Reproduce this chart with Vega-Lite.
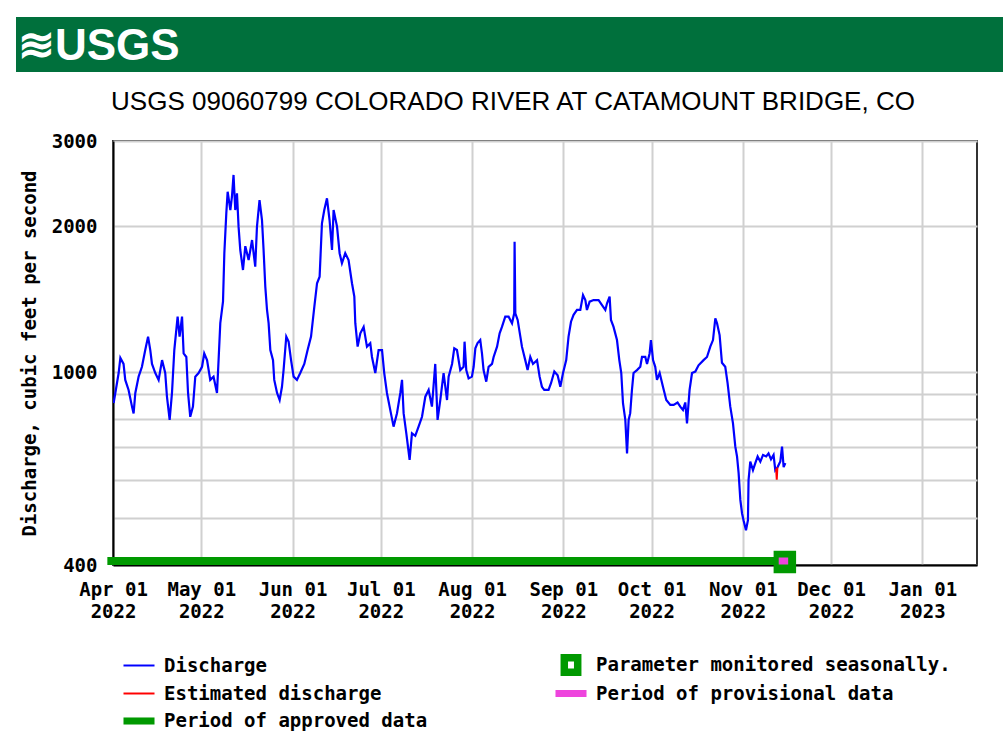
{
  "$schema": "https://vega.github.io/schema/vega-lite/v6.json",
  "background": "white",
  "padding": {"left": 16, "top": 17, "right": 0, "bottom": 0},
  "spacing": 16,
  "datasets": {
    "discharge": [
      {"t":"2022-04-01T05:00","q":863,"s":"Discharge"},
      {"t":"2022-04-01T19:00","q":906,"s":"Discharge"},
      {"t":"2022-04-02T22:00","q":996,"s":"Discharge"},
      {"t":"2022-04-03T12:00","q":1070,"s":"Discharge"},
      {"t":"2022-04-04T14:00","q":1040,"s":"Discharge"},
      {"t":"2022-04-05T04:00","q":964,"s":"Discharge"},
      {"t":"2022-04-06T07:00","q":919,"s":"Discharge"},
      {"t":"2022-04-07T11:00","q":849,"s":"Discharge"},
      {"t":"2022-04-08T00:00","q":822,"s":"Discharge"},
      {"t":"2022-04-08T14:00","q":906,"s":"Discharge"},
      {"t":"2022-04-09T17:00","q":979,"s":"Discharge"},
      {"t":"2022-04-10T20:00","q":1026,"s":"Discharge"},
      {"t":"2022-04-11T23:00","q":1111,"s":"Discharge"},
      {"t":"2022-04-12T22:00","q":1184,"s":"Discharge"},
      {"t":"2022-04-13T16:00","q":1111,"s":"Discharge"},
      {"t":"2022-04-14T06:00","q":1040,"s":"Discharge"},
      {"t":"2022-04-15T09:00","q":996,"s":"Discharge"},
      {"t":"2022-04-16T12:00","q":964,"s":"Discharge"},
      {"t":"2022-04-17T16:00","q":1059,"s":"Discharge"},
      {"t":"2022-04-18T18:00","q":996,"s":"Discharge"},
      {"t":"2022-04-19T08:00","q":890,"s":"Discharge"},
      {"t":"2022-04-20T06:00","q":797,"s":"Discharge"},
      {"t":"2022-04-21T01:00","q":906,"s":"Discharge"},
      {"t":"2022-04-21T20:00","q":1111,"s":"Discharge"},
      {"t":"2022-04-22T23:00","q":1302,"s":"Discharge"},
      {"t":"2022-04-23T15:00","q":1184,"s":"Discharge"},
      {"t":"2022-04-24T11:00","q":1302,"s":"Discharge"},
      {"t":"2022-04-25T00:00","q":1093,"s":"Discharge"},
      {"t":"2022-04-25T22:00","q":1075,"s":"Discharge"},
      {"t":"2022-04-26T12:00","q":906,"s":"Discharge"},
      {"t":"2022-04-27T06:00","q":809,"s":"Discharge"},
      {"t":"2022-04-28T04:00","q":849,"s":"Discharge"},
      {"t":"2022-04-28T23:00","q":979,"s":"Discharge"},
      {"t":"2022-04-30T02:00","q":996,"s":"Discharge"},
      {"t":"2022-05-01T06:00","q":1026,"s":"Discharge"},
      {"t":"2022-05-02T00:00","q":1093,"s":"Discharge"},
      {"t":"2022-05-02T23:00","q":1059,"s":"Discharge"},
      {"t":"2022-05-04T01:00","q":964,"s":"Discharge"},
      {"t":"2022-05-05T04:00","q":979,"s":"Discharge"},
      {"t":"2022-05-06T08:00","q":906,"s":"Discharge"},
      {"t":"2022-05-06T21:00","q":1059,"s":"Discharge"},
      {"t":"2022-05-07T11:00","q":1262,"s":"Discharge"},
      {"t":"2022-05-08T09:00","q":1398,"s":"Discharge"},
      {"t":"2022-05-08T20:00","q":1760,"s":"Discharge"},
      {"t":"2022-05-09T12:00","q":2127,"s":"Discharge"},
      {"t":"2022-05-09T23:00","q":2357,"s":"Discharge"},
      {"t":"2022-05-10T21:00","q":2161,"s":"Discharge"},
      {"t":"2022-05-11T10:00","q":2302,"s":"Discharge"},
      {"t":"2022-05-11T23:00","q":2553,"s":"Discharge"},
      {"t":"2022-05-12T13:00","q":2161,"s":"Discharge"},
      {"t":"2022-05-13T03:00","q":2340,"s":"Discharge"},
      {"t":"2022-05-13T16:00","q":1997,"s":"Discharge"},
      {"t":"2022-05-14T06:00","q":1787,"s":"Discharge"},
      {"t":"2022-05-15T04:00","q":1625,"s":"Discharge"},
      {"t":"2022-05-15T23:00","q":1820,"s":"Discharge"},
      {"t":"2022-05-17T02:00","q":1704,"s":"Discharge"},
      {"t":"2022-05-18T06:00","q":1874,"s":"Discharge"},
      {"t":"2022-05-19T08:00","q":1651,"s":"Discharge"},
      {"t":"2022-05-19T22:00","q":1997,"s":"Discharge"},
      {"t":"2022-05-20T19:00","q":2266,"s":"Discharge"},
      {"t":"2022-05-21T15:00","q":2061,"s":"Discharge"},
      {"t":"2022-05-22T04:00","q":1787,"s":"Discharge"},
      {"t":"2022-05-22T18:00","q":1502,"s":"Discharge"},
      {"t":"2022-05-23T08:00","q":1344,"s":"Discharge"},
      {"t":"2022-05-23T21:00","q":1262,"s":"Discharge"},
      {"t":"2022-05-24T11:00","q":1111,"s":"Discharge"},
      {"t":"2022-05-25T09:00","q":1059,"s":"Discharge"},
      {"t":"2022-05-25T19:00","q":964,"s":"Discharge"},
      {"t":"2022-05-26T18:00","q":906,"s":"Discharge"},
      {"t":"2022-05-27T15:00","q":876,"s":"Discharge"},
      {"t":"2022-05-28T10:00","q":933,"s":"Discharge"},
      {"t":"2022-05-28T23:00","q":1010,"s":"Discharge"},
      {"t":"2022-05-29T21:00","q":1184,"s":"Discharge"},
      {"t":"2022-05-30T16:00","q":1156,"s":"Discharge"},
      {"t":"2022-05-31T12:00","q":1059,"s":"Discharge"},
      {"t":"2022-06-01T09:00","q":979,"s":"Discharge"},
      {"t":"2022-06-02T12:00","q":964,"s":"Discharge"},
      {"t":"2022-06-03T15:00","q":996,"s":"Discharge"},
      {"t":"2022-06-05T00:00","q":1040,"s":"Discharge"},
      {"t":"2022-06-06T03:00","q":1111,"s":"Discharge"},
      {"t":"2022-06-07T07:00","q":1184,"s":"Discharge"},
      {"t":"2022-06-08T10:00","q":1365,"s":"Discharge"},
      {"t":"2022-06-09T08:00","q":1526,"s":"Discharge"},
      {"t":"2022-06-10T05:00","q":1574,"s":"Discharge"},
      {"t":"2022-06-11T00:00","q":2029,"s":"Discharge"},
      {"t":"2022-06-11T19:00","q":2161,"s":"Discharge"},
      {"t":"2022-06-12T17:00","q":2285,"s":"Discharge"},
      {"t":"2022-06-13T14:00","q":2061,"s":"Discharge"},
      {"t":"2022-06-14T10:00","q":1787,"s":"Discharge"},
      {"t":"2022-06-14T23:00","q":2161,"s":"Discharge"},
      {"t":"2022-06-16T03:00","q":1997,"s":"Discharge"},
      {"t":"2022-06-17T00:00","q":1760,"s":"Discharge"},
      {"t":"2022-06-17T19:00","q":1678,"s":"Discharge"},
      {"t":"2022-06-18T22:00","q":1760,"s":"Discharge"},
      {"t":"2022-06-20T01:00","q":1704,"s":"Discharge"},
      {"t":"2022-06-21T05:00","q":1526,"s":"Discharge"},
      {"t":"2022-06-22T00:00","q":1432,"s":"Discharge"},
      {"t":"2022-06-22T08:00","q":1262,"s":"Discharge"},
      {"t":"2022-06-23T03:00","q":1129,"s":"Discharge"},
      {"t":"2022-06-24T01:00","q":1203,"s":"Discharge"},
      {"t":"2022-06-25T04:00","q":1240,"s":"Discharge"},
      {"t":"2022-06-26T07:00","q":1129,"s":"Discharge"},
      {"t":"2022-06-27T10:00","q":1148,"s":"Discharge"},
      {"t":"2022-06-28T00:00","q":1075,"s":"Discharge"},
      {"t":"2022-06-29T03:00","q":996,"s":"Discharge"},
      {"t":"2022-06-30T06:00","q":1111,"s":"Discharge"},
      {"t":"2022-07-01T10:00","q":1111,"s":"Discharge"},
      {"t":"2022-07-02T04:00","q":996,"s":"Discharge"},
      {"t":"2022-07-03T02:00","q":906,"s":"Discharge"},
      {"t":"2022-07-04T05:00","q":836,"s":"Discharge"},
      {"t":"2022-07-05T08:00","q":772,"s":"Discharge"},
      {"t":"2022-07-06T12:00","q":823,"s":"Discharge"},
      {"t":"2022-07-07T15:00","q":906,"s":"Discharge"},
      {"t":"2022-07-08T05:00","q":964,"s":"Discharge"},
      {"t":"2022-07-08T18:00","q":823,"s":"Discharge"},
      {"t":"2022-07-09T16:00","q":748,"s":"Discharge"},
      {"t":"2022-07-10T19:00","q":659,"s":"Discharge"},
      {"t":"2022-07-11T14:00","q":748,"s":"Discharge"},
      {"t":"2022-07-12T17:00","q":739,"s":"Discharge"},
      {"t":"2022-07-13T20:00","q":772,"s":"Discharge"},
      {"t":"2022-07-15T00:00","q":809,"s":"Discharge"},
      {"t":"2022-07-16T03:00","q":890,"s":"Discharge"},
      {"t":"2022-07-17T06:00","q":919,"s":"Discharge"},
      {"t":"2022-07-18T09:00","q":849,"s":"Discharge"},
      {"t":"2022-07-19T12:00","q":1040,"s":"Discharge"},
      {"t":"2022-07-20T07:00","q":797,"s":"Discharge"},
      {"t":"2022-07-21T05:00","q":876,"s":"Discharge"},
      {"t":"2022-07-22T08:00","q":996,"s":"Discharge"},
      {"t":"2022-07-23T12:00","q":876,"s":"Discharge"},
      {"t":"2022-07-24T01:00","q":979,"s":"Discharge"},
      {"t":"2022-07-25T05:00","q":1040,"s":"Discharge"},
      {"t":"2022-07-25T23:00","q":1120,"s":"Discharge"},
      {"t":"2022-07-26T21:00","q":1111,"s":"Discharge"},
      {"t":"2022-07-28T00:00","q":1010,"s":"Discharge"},
      {"t":"2022-07-29T03:00","q":1026,"s":"Discharge"},
      {"t":"2022-07-29T11:00","q":1156,"s":"Discharge"},
      {"t":"2022-07-30T01:00","q":1010,"s":"Discharge"},
      {"t":"2022-07-30T20:00","q":971,"s":"Discharge"},
      {"t":"2022-07-31T23:00","q":979,"s":"Discharge"},
      {"t":"2022-08-01T13:00","q":1026,"s":"Discharge"},
      {"t":"2022-08-02T03:00","q":1120,"s":"Discharge"},
      {"t":"2022-08-02T21:00","q":1148,"s":"Discharge"},
      {"t":"2022-08-03T19:00","q":1165,"s":"Discharge"},
      {"t":"2022-08-04T09:00","q":1093,"s":"Discharge"},
      {"t":"2022-08-04T22:00","q":1010,"s":"Discharge"},
      {"t":"2022-08-05T20:00","q":956,"s":"Discharge"},
      {"t":"2022-08-06T15:00","q":1026,"s":"Discharge"},
      {"t":"2022-08-07T19:00","q":1040,"s":"Discharge"},
      {"t":"2022-08-08T08:00","q":1075,"s":"Discharge"},
      {"t":"2022-08-09T12:00","q":1129,"s":"Discharge"},
      {"t":"2022-08-10T09:00","q":1203,"s":"Discharge"},
      {"t":"2022-08-11T04:00","q":1240,"s":"Discharge"},
      {"t":"2022-08-12T07:00","q":1302,"s":"Discharge"},
      {"t":"2022-08-13T10:00","q":1302,"s":"Discharge"},
      {"t":"2022-08-14T14:00","q":1262,"s":"Discharge"},
      {"t":"2022-08-15T08:00","q":1323,"s":"Discharge"},
      {"t":"2022-08-15T11:00","q":1859,"s":"Discharge"},
      {"t":"2022-08-15T17:00","q":1323,"s":"Discharge"},
      {"t":"2022-08-16T12:00","q":1282,"s":"Discharge"},
      {"t":"2022-08-17T10:00","q":1184,"s":"Discharge"},
      {"t":"2022-08-17T23:00","q":1129,"s":"Discharge"},
      {"t":"2022-08-19T02:00","q":1059,"s":"Discharge"},
      {"t":"2022-08-19T21:00","q":1010,"s":"Discharge"},
      {"t":"2022-08-20T19:00","q":1075,"s":"Discharge"},
      {"t":"2022-08-21T17:00","q":1040,"s":"Discharge"},
      {"t":"2022-08-23T02:00","q":1059,"s":"Discharge"},
      {"t":"2022-08-23T23:00","q":979,"s":"Discharge"},
      {"t":"2022-08-24T18:00","q":933,"s":"Discharge"},
      {"t":"2022-08-25T13:00","q":919,"s":"Discharge"},
      {"t":"2022-08-27T00:00","q":919,"s":"Discharge"},
      {"t":"2022-08-27T20:00","q":949,"s":"Discharge"},
      {"t":"2022-08-28T23:00","q":1003,"s":"Discharge"},
      {"t":"2022-08-30T02:00","q":985,"s":"Discharge"},
      {"t":"2022-08-31T00:00","q":933,"s":"Discharge"},
      {"t":"2022-08-31T22:00","q":996,"s":"Discharge"},
      {"t":"2022-09-02T00:00","q":1059,"s":"Discharge"},
      {"t":"2022-09-02T19:00","q":1184,"s":"Discharge"},
      {"t":"2022-09-03T15:00","q":1271,"s":"Discharge"},
      {"t":"2022-09-04T12:00","q":1313,"s":"Discharge"},
      {"t":"2022-09-05T16:00","q":1344,"s":"Discharge"},
      {"t":"2022-09-06T19:00","q":1344,"s":"Discharge"},
      {"t":"2022-09-07T17:00","q":1443,"s":"Discharge"},
      {"t":"2022-09-08T12:00","q":1409,"s":"Discharge"},
      {"t":"2022-09-09T01:00","q":1344,"s":"Discharge"},
      {"t":"2022-09-09T23:00","q":1398,"s":"Discharge"},
      {"t":"2022-09-11T07:00","q":1409,"s":"Discharge"},
      {"t":"2022-09-13T00:00","q":1409,"s":"Discharge"},
      {"t":"2022-09-14T04:00","q":1376,"s":"Discharge"},
      {"t":"2022-09-15T07:00","q":1344,"s":"Discharge"},
      {"t":"2022-09-15T21:00","q":1387,"s":"Discharge"},
      {"t":"2022-09-16T18:00","q":1432,"s":"Discharge"},
      {"t":"2022-09-17T05:00","q":1282,"s":"Discharge"},
      {"t":"2022-09-18T02:00","q":1240,"s":"Discharge"},
      {"t":"2022-09-19T06:00","q":1165,"s":"Discharge"},
      {"t":"2022-09-20T01:00","q":1059,"s":"Discharge"},
      {"t":"2022-09-20T17:00","q":996,"s":"Discharge"},
      {"t":"2022-09-21T07:00","q":863,"s":"Discharge"},
      {"t":"2022-09-22T02:00","q":797,"s":"Discharge"},
      {"t":"2022-09-22T16:00","q":680,"s":"Discharge"},
      {"t":"2022-09-23T05:00","q":797,"s":"Discharge"},
      {"t":"2022-09-23T18:00","q":823,"s":"Discharge"},
      {"t":"2022-09-24T08:00","q":919,"s":"Discharge"},
      {"t":"2022-09-24T21:00","q":996,"s":"Discharge"},
      {"t":"2022-09-26T01:00","q":1010,"s":"Discharge"},
      {"t":"2022-09-27T04:00","q":1026,"s":"Discharge"},
      {"t":"2022-09-27T18:00","q":1075,"s":"Discharge"},
      {"t":"2022-09-28T21:00","q":1075,"s":"Discharge"},
      {"t":"2022-09-29T11:00","q":1040,"s":"Discharge"},
      {"t":"2022-09-30T08:00","q":1093,"s":"Discharge"},
      {"t":"2022-09-30T19:00","q":1165,"s":"Discharge"},
      {"t":"2022-10-01T12:00","q":1059,"s":"Discharge"},
      {"t":"2022-10-02T06:00","q":1026,"s":"Discharge"},
      {"t":"2022-10-02T20:00","q":964,"s":"Discharge"},
      {"t":"2022-10-03T18:00","q":996,"s":"Discharge"},
      {"t":"2022-10-04T21:00","q":933,"s":"Discharge"},
      {"t":"2022-10-06T00:00","q":876,"s":"Discharge"},
      {"t":"2022-10-07T09:00","q":856,"s":"Discharge"},
      {"t":"2022-10-08T12:00","q":856,"s":"Discharge"},
      {"t":"2022-10-09T20:00","q":866,"s":"Discharge"},
      {"t":"2022-10-10T18:00","q":849,"s":"Discharge"},
      {"t":"2022-10-11T16:00","q":836,"s":"Discharge"},
      {"t":"2022-10-12T11:00","q":866,"s":"Discharge"},
      {"t":"2022-10-13T01:00","q":784,"s":"Discharge"},
      {"t":"2022-10-13T22:00","q":919,"s":"Discharge"},
      {"t":"2022-10-14T18:00","q":996,"s":"Discharge"},
      {"t":"2022-10-15T21:00","q":1003,"s":"Discharge"},
      {"t":"2022-10-16T23:00","q":1033,"s":"Discharge"},
      {"t":"2022-10-18T16:00","q":1059,"s":"Discharge"},
      {"t":"2022-10-19T20:00","q":1075,"s":"Discharge"},
      {"t":"2022-10-20T23:00","q":1129,"s":"Discharge"},
      {"t":"2022-10-21T21:00","q":1165,"s":"Discharge"},
      {"t":"2022-10-22T16:00","q":1292,"s":"Discharge"},
      {"t":"2022-10-23T06:00","q":1262,"s":"Discharge"},
      {"t":"2022-10-24T03:00","q":1193,"s":"Discharge"},
      {"t":"2022-10-24T22:00","q":1046,"s":"Discharge"},
      {"t":"2022-10-26T01:00","q":1026,"s":"Discharge"},
      {"t":"2022-10-26T20:00","q":949,"s":"Discharge"},
      {"t":"2022-10-27T18:00","q":849,"s":"Discharge"},
      {"t":"2022-10-28T16:00","q":784,"s":"Discharge"},
      {"t":"2022-10-29T11:00","q":702,"s":"Discharge"},
      {"t":"2022-10-30T01:00","q":670,"s":"Discharge"},
      {"t":"2022-10-30T14:00","q":619,"s":"Discharge"},
      {"t":"2022-10-31T04:00","q":545,"s":"Discharge"},
      {"t":"2022-10-31T18:00","q":511,"s":"Discharge"},
      {"t":"2022-11-01T06:00","q":495,"s":"Discharge"},
      {"t":"2022-11-02T02:00","q":472,"s":"Discharge"},
      {"t":"2022-11-02T18:00","q":495,"s":"Discharge"},
      {"t":"2022-11-02T23:00","q":599,"s":"Discharge"},
      {"t":"2022-11-03T13:00","q":654,"s":"Discharge"},
      {"t":"2022-11-04T11:00","q":628,"s":"Discharge"},
      {"t":"2022-11-05T06:00","q":649,"s":"Discharge"},
      {"t":"2022-11-06T01:00","q":670,"s":"Discharge"},
      {"t":"2022-11-06T23:00","q":654,"s":"Discharge"},
      {"t":"2022-11-07T21:00","q":675,"s":"Discharge"},
      {"t":"2022-11-08T23:00","q":670,"s":"Discharge"},
      {"t":"2022-11-09T18:00","q":680,"s":"Discharge"},
      {"t":"2022-11-10T14:00","q":661,"s":"Discharge"},
      {"t":"2022-11-11T11:00","q":675,"s":"Discharge"},
      {"t":"2022-11-12T01:00","q":628,"s":"Discharge"},
      {"t":"2022-11-12T20:00","q":637,"s":"Discharge"},
      {"t":"2022-11-13T18:00","q":654,"s":"Discharge"},
      {"t":"2022-11-14T08:00","q":702,"s":"Discharge"},
      {"t":"2022-11-14T21:00","q":637,"s":"Discharge"},
      {"t":"2022-11-15T11:00","q":649,"s":"Discharge"}
    ],
    "estimated": [
      {"t":"2022-11-12T08:00","q":632,"s":"Estimated discharge"},
      {"t":"2022-11-12T13:00","q":600,"s":"Estimated discharge"},
      {"t":"2022-11-12T18:00","q":636,"s":"Estimated discharge"}
    ],
    "approved": [
      {"start":"2022-03-30T02:00","end":"2022-11-12T00:00","period":"Period of approved data"}
    ],
    "provisional": [
      {"start":"2022-11-13T05:00","end":"2022-11-16T10:00","period":"Period of provisional data"}
    ],
    "monitored": [
      {"t":"2022-11-15T07:00","note":"Parameter monitored seasonally."}
    ]
  },
  "config": {
    "font": "DejaVu Sans Mono",
    "view": {"stroke": null}
  },
  "vconcat": [
    {
      "width": 987,
      "height": 55,
      "view": {"fill": "#00703c", "stroke": null},
      "title": {
        "text": "≋USGS",
        "anchor": "start",
        "orient": "top",
        "offset": -52,
        "dx": 2,
        "color": "white",
        "font": "Liberation Sans Narrow, Liberation Sans",
        "fontSize": 44,
        "fontWeight": "bold"
      },
      "data": {"values": [{}]},
      "mark": {"type": "text", "text": ""}
    },
    {
      "bounds": "flush",
      "spacing": 0,
      "hconcat": [
        {
          "width": 97,
          "height": 424,
          "view": {"stroke": null},
          "data": {"values": [{}]},
          "mark": {"type": "text", "text": ""}
        },
        {
          "width": 864,
          "height": 424,
          "view": {"stroke": "#333333", "strokeWidth": 2},
          "title": {
            "text": "USGS 09060799 COLORADO RIVER AT CATAMOUNT BRIDGE, CO",
            "font": "Liberation Sans",
            "fontSize": 26,
            "fontWeight": "normal",
            "color": "#000000",
            "anchor": "middle",
            "offset": 17,
            "dx": -32
          },
          "layer": [
            {
              "data": {"name": "discharge"},
              "mark": {"type": "line", "strokeWidth": 2.2, "clip": true},
              "encoding": {
                "x": {
                  "field": "t",
                  "type": "temporal",
                  "scale": {"domain": [{"year": 2022, "month": 4, "date": 1}, {"year": 2023, "month": 1, "date": 19, "hours": 14}]},
                  "axis": {
                    "title": null,
                    "tickCount": {"interval": "month", "step": 1},
                    "labelExpr": "[timeFormat(datum.value, '%b %d'), timeFormat(datum.value, '%Y')]",
                    "labelFont": "DejaVu Sans Mono",
                    "labelFontWeight": "bold",
                    "labelFontSize": 19,
                    "labelColor": "#000000",
                    "labelPadding": 15,
                    "labelLineHeight": 22,
                    "labelFlush": false,
                    "labelOverlap": false,
                    "ticks": false,
                    "domainColor": "#000000",
                    "domainWidth": 2,
                    "grid": true,
                    "gridColor": "#d0d0d0",
                    "gridWidth": 2
                  }
                },
                "y": {
                  "field": "q",
                  "type": "quantitative",
                  "scale": {"type": "log", "domain": [400, 3000], "nice": false},
                  "axis": {
                    "title": "Discharge, cubic feet per second",
                    "titleFont": "DejaVu Sans Mono",
                    "titleFontWeight": "bold",
                    "titleFontSize": 19,
                    "titleColor": "#000000",
                    "titlePadding": 12,
                    "values": [400, 500, 600, 700, 800, 900, 1000, 2000, 3000],
                    "labelExpr": "indexof([400, 1000, 2000, 3000], datum.value) >= 0 ? format(datum.value, 'd') : ''",
                    "labelFont": "DejaVu Sans Mono",
                    "labelFontWeight": "bold",
                    "labelFontSize": 19,
                    "labelColor": "#000000",
                    "labelPadding": 16,
                    "labelFlush": false,
                    "labelOverlap": false,
                    "ticks": false,
                    "domainColor": "#000000",
                    "domainWidth": 2,
                    "grid": true,
                    "gridColor": "#d0d0d0",
                    "gridWidth": 2
                  }
                },
                "color": {
                  "field": "s",
                  "type": "nominal",
                  "scale": {
                    "domain": ["Discharge", "Estimated discharge", "Period of approved data", "Parameter monitored seasonally.", "Period of provisional data"],
                    "range": ["#0000ff", "#ff0000", "#009900", "#009900", "#ee44dd"]
                  },
                  "legend": {
                    "orient": "none",
                    "legendX": 112,
                    "legendY": 637,
                    "columns": 2,
                    "columnPadding": 127,
                    "rowPadding": 6.5,
                    "padding": 0,
                    "title": null,
                    "symbolSize": 484,
                    "labelFont": "DejaVu Sans Mono",
                    "labelFontSize": 19,
                    "labelFontWeight": "bold",
                    "labelColor": "#000000",
                    "labelOffset": 14,
                    "labelLimit": 600,
                    "encode": {
                      "symbols": {
                        "update": {
                          "shape": [
                            {"test": "datum.value === 'Discharge' || datum.value === 'Estimated discharge'", "value": "M-1.41,-0.09H1.41V0.09H-1.41Z"},
                            {"test": "datum.value === 'Parameter monitored seasonally.'", "value": "M-0.95,-1H0.95V1H-0.95ZM-0.27,-0.32V0.32H0.27V-0.32Z"},
                            {"value": "M-1.41,-0.32H1.41V0.32H-1.41Z"}
                          ],
                          "fill": [
                            {"test": "datum.value === 'Discharge'", "value": "#0000ff"},
                            {"test": "datum.value === 'Estimated discharge'", "value": "#ff0000"},
                            {"test": "datum.value === 'Period of provisional data'", "value": "#ee44dd"},
                            {"value": "#009900"}
                          ],
                          "fillOpacity": {"value": 1},
                          "opacity": {"value": 1},
                          "strokeWidth": {"value": 0}
                        }
                      }
                    }
                  }
                }
              }
            },
            {
              "data": {"name": "estimated"},
              "mark": {"type": "line", "strokeWidth": 2, "clip": true},
              "encoding": {
                "x": {"field": "t", "type": "temporal"},
                "y": {"field": "q", "type": "quantitative"},
                "color": {"field": "s", "type": "nominal"}
              }
            },
            {
              "data": {"name": "approved"},
              "mark": {"type": "rule", "strokeWidth": 8, "strokeCap": "butt", "color": "#009900", "yOffset": -4},
              "encoding": {
                "x": {"field": "start", "type": "temporal"},
                "x2": {"field": "end"},
                "y": {"datum": 400, "type": "quantitative"}
              }
            },
            {
              "data": {"name": "monitored"},
              "mark": {"type": "point", "shape": "square", "filled": true, "size": 506, "color": "#009900", "opacity": 1, "strokeWidth": 0, "yOffset": -3},
              "encoding": {
                "x": {"field": "t", "type": "temporal"},
                "y": {"datum": 400, "type": "quantitative"}
              }
            },
            {
              "data": {"name": "provisional"},
              "mark": {"type": "rule", "strokeWidth": 7, "strokeCap": "butt", "color": "#ee44dd", "yOffset": -4},
              "encoding": {
                "x": {"field": "start", "type": "temporal"},
                "x2": {"field": "end"},
                "y": {"datum": 400, "type": "quantitative"}
              }
            }
          ]
        }
      ]
    }
  ]
}
